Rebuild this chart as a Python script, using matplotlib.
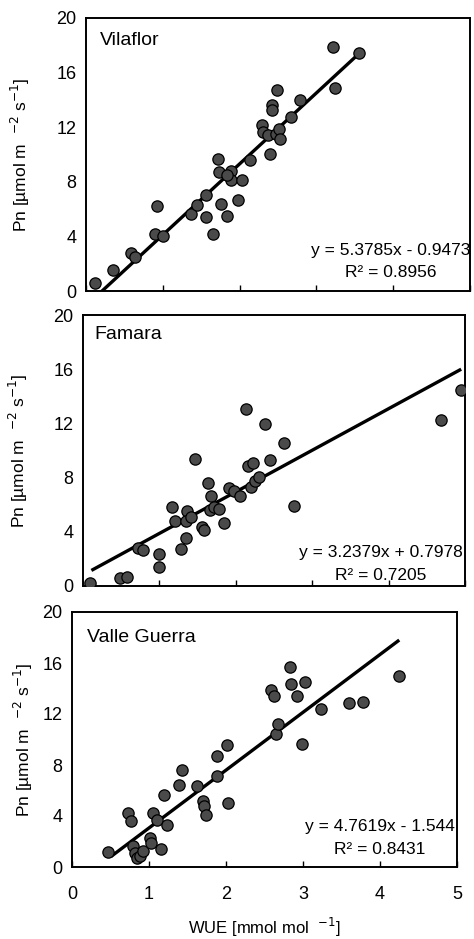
import matplotlib
matplotlib.use("Agg")
import matplotlib.pyplot as plt

plt.rcParams['font.family'] = ['Liberation Sans', 'DejaVu Sans']

# Vilaflor
vil_x = [0.12, 0.35, 0.58, 0.64, 0.92, 0.90, 1.00, 1.37, 1.44, 1.56, 1.56, 1.65, 1.72, 1.73,
         1.76, 1.83, 1.89, 1.89, 1.83, 1.98, 2.03, 2.14, 2.29, 2.30, 2.40, 2.42, 2.42, 2.49,
         2.37, 2.47, 2.51, 2.52, 2.67, 2.78, 3.21, 3.24, 3.56]
vil_y = [0.61, 1.52, 2.75, 2.50, 6.20, 4.20, 4.00, 5.64, 6.33, 7.00, 5.45, 4.17, 9.67, 8.70,
         6.38, 5.52, 8.79, 8.10, 8.47, 6.70, 8.10, 9.62, 12.15, 11.66, 10.06, 13.62, 13.25, 14.72,
         11.40, 11.50, 11.90, 11.17, 12.76, 14.00, 17.90, 14.90, 17.40]
vil_line_x = [0.19, 3.56]
vil_line_y = [-0.1, 17.42]

# Famara
fam_x = [0.09, 0.49, 0.57, 0.72, 0.79, 1.00, 1.00, 1.16, 1.20, 1.28, 1.35, 1.36, 1.35, 1.41,
         1.46, 1.56, 1.59, 1.64, 1.68, 1.66, 1.72, 1.78, 1.84, 1.91, 1.97, 2.05, 2.14, 2.16,
         2.22, 2.20, 2.25, 2.30, 2.38, 2.45, 2.63, 2.76, 4.69, 4.95]
fam_y = [0.25, 0.57, 0.67, 2.79, 2.64, 2.35, 1.41, 5.80, 4.77, 2.72, 3.53, 5.51, 4.80, 5.06,
         9.38, 4.32, 4.12, 7.60, 6.67, 5.60, 5.80, 5.68, 4.64, 7.23, 7.04, 6.62, 13.09, 8.84,
         9.09, 7.33, 7.78, 8.02, 11.98, 9.28, 10.57, 5.93, 12.27, 14.50]
fam_line_x = [0.11, 4.95]
fam_line_y = [1.15, 16.0]

# Valle Guerra
vg_x = [0.47, 0.73, 0.77, 0.79, 0.82, 0.84, 0.88, 0.92, 1.01, 1.03, 1.05, 1.10, 1.16, 1.19,
        1.23, 1.39, 1.43, 1.62, 1.70, 1.71, 1.74, 1.88, 1.88, 2.01, 2.03, 2.59, 2.62, 2.65,
        2.67, 2.83, 2.85, 2.92, 3.03, 2.99, 3.24, 3.60, 3.78, 4.25]
vg_y = [1.15, 4.24, 3.58, 1.67, 1.10, 0.70, 0.84, 1.23, 2.27, 1.88, 4.24, 3.71, 1.41, 5.67,
        3.27, 6.40, 7.63, 6.33, 5.15, 4.76, 4.10, 8.73, 7.11, 9.54, 5.02, 13.90, 13.40, 10.46,
        11.24, 15.69, 14.38, 13.44, 14.51, 9.65, 12.39, 12.86, 12.92, 14.95]
vg_line_x = [0.51, 4.25]
vg_line_y = [0.84, 17.8]

titles = ["Vilaflor", "Famara", "Valle Guerra"]
equations = ["y = 5.3785x - 0.9473", "y = 3.2379x + 0.7978", "y = 4.7619x - 1.544"]
r2_texts = ["R² = 0.8956", "R² = 0.7205", "R² = 0.8431"]
y_ticks = [0, 4, 8, 12, 16, 20]
x_ticks = [0, 1, 2, 3, 4, 5]

W, H = 474, 939
fig = plt.figure(figsize=(W / 100, H / 100), dpi=100)

# pixel boxes: left, right, top, bottom
boxes = [(86, 470, 18, 291), (83, 465, 315, 586), (72, 457, 612, 867)]
title_pos = [(0.036, 0.95), (0.031, 0.96), (0.039, 0.935)]
eq_pos = [(0.794, 0.147, 0.066), (0.78, 0.125, 0.04), (0.80, 0.157, 0.067)]

data = [(vil_x, vil_y, vil_line_x, vil_line_y),
        (fam_x, fam_y, fam_line_x, fam_line_y),
        (vg_x, vg_y, vg_line_x, vg_line_y)]

ylab = r'Pn [µmol m  $^{-2}$ s$^{-1}$]'
fs = 12.5

for i, (l, r, t, b) in enumerate(boxes):
    ax = fig.add_axes([l / W, (H - b) / H, (r - l) / W, (b - t) / H])
    xs, ys, lx, ly = data[i]
    ax.plot(lx, ly, color='black', lw=2.4, solid_capstyle='butt', zorder=2)
    ax.scatter(xs, ys, s=66, facecolor='#4a4a4a', edgecolor='black', linewidth=0.9, zorder=3)
    ax.set_xlim(0, 5)
    ax.set_ylim(0, 20)
    ax.set_yticks(y_ticks)
    ax.set_xticks(x_ticks)
    ax.tick_params(axis='y', length=0, pad=7, labelsize=13)
    ax.tick_params(axis='x', direction='in', length=4, width=1, labelsize=13, pad=14)
    if i < 2:
        ax.set_xticklabels([])
    for s in ax.spines.values():
        s.set_linewidth(1.4)
    ax.set_ylabel(ylab, fontsize=12.5)
    ax.yaxis.set_label_coords(-0.14 if i < 2 else -0.095, 0.5)
    tx, ty = title_pos[i]
    ax.text(tx, ty, titles[i], transform=ax.transAxes, fontsize=14, ha='left', va='top')
    ex, ey, ry = eq_pos[i]
    ax.text(ex, ey, equations[i], transform=ax.transAxes, fontsize=fs, ha='center', va='center')
    ax.text(ex, ry, r2_texts[i], transform=ax.transAxes, fontsize=fs, ha='center', va='center')
    if i == 2:
        ax.set_xlabel(r'WUE [mmol mol  $^{-1}$]', fontsize=12)
        ax.xaxis.set_label_coords(0.5, -0.19)

fig.savefig("out.png", dpi=100)
